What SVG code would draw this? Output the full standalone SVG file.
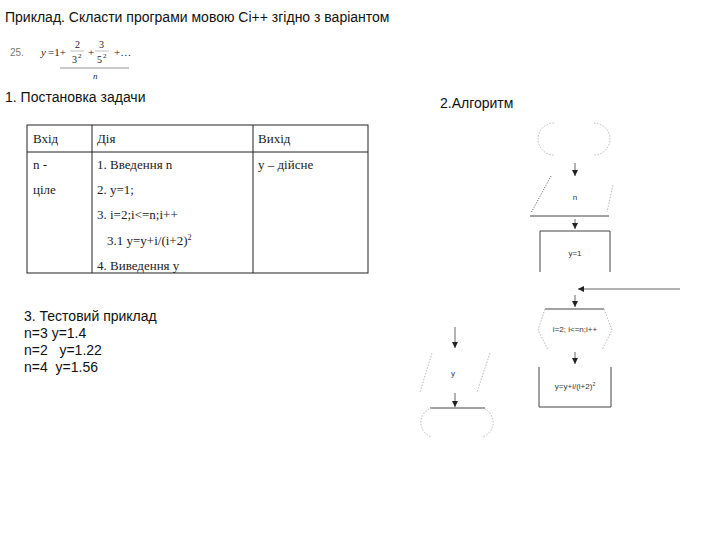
<svg xmlns="http://www.w3.org/2000/svg" width="720" height="540" viewBox="0 0 720 540">
<defs>
<style>
.sans{font-family:"Liberation Sans",Arial,sans-serif;fill:#111}
.serif{font-family:"Liberation Serif","Times New Roman",serif;fill:#222}
.h{font-size:14px}
.t{font-size:13px}
.small{font-size:8px;font-family:"Liberation Sans",Arial,sans-serif;fill:#333}
.faint{fill:none;stroke:#b8b8b8;stroke-width:1;stroke-dasharray:1.5 1.5}
.solid{fill:none;stroke:#444;stroke-width:1}
.grid{fill:none;stroke:#222;stroke-width:1}
.conn{fill:none;stroke:#666;stroke-width:1}
</style>
<marker id="ah" viewBox="0 0 10 10" refX="10" refY="5" markerWidth="6" markerHeight="6" orient="auto">
<path d="M0,0 L10,5 L0,10 z" fill="#222"/>
</marker>
</defs>
<rect width="720" height="540" fill="#fff"/>

<text class="sans h" x="5" y="22">Приклад. Скласти програми мовою Сі++ згідно з варіантом</text>

<g id="formula">
<text x="10" y="56" font-family="Liberation Sans,Arial,sans-serif" font-size="10" fill="#777">25.</text>
<text x="41" y="56" class="serif" font-size="11" font-style="italic" fill="#444">y</text>
<text x="48" y="56" class="serif" font-size="11" fill="#444">=1+</text>
<text x="75" y="48" class="serif" font-size="10" fill="#444">2</text>
<line x1="70" y1="51" x2="84" y2="51" stroke="#999" stroke-width="0.6"/>
<text x="72" y="63" class="serif" font-size="10" fill="#444">3</text>
<text x="78" y="58" class="serif" font-size="7" fill="#444">2</text>
<text x="88" y="56" class="serif" font-size="11" fill="#444">+</text>
<text x="99" y="48" class="serif" font-size="10" fill="#444">3</text>
<line x1="95" y1="51" x2="109" y2="51" stroke="#999" stroke-width="0.6"/>
<text x="97" y="63" class="serif" font-size="10" fill="#444">5</text>
<text x="103" y="58" class="serif" font-size="7" fill="#444">2</text>
<text x="114" y="56" class="serif" font-size="11" fill="#444">+…</text>
<line x1="60" y1="68" x2="129" y2="68" stroke="#777" stroke-width="0.8"/>
<text x="93" y="79" class="serif" font-size="9" font-style="italic" fill="#444">n</text>
</g>

<text class="sans h" x="5" y="102">1. Постановка задачи</text>
<text class="sans h" x="440" y="108">2.Алгоритм</text>

<g id="table">
<rect class="grid" x="27" y="125" width="341" height="148"/>
<line class="grid" x1="27" y1="152" x2="368" y2="152"/>
<line class="grid" x1="92" y1="125" x2="92" y2="273"/>
<line class="grid" x1="253" y1="125" x2="253" y2="273"/>
<text class="serif t" x="33" y="143">Вхід</text>
<text class="serif t" x="97" y="143">Дія</text>
<text class="serif t" x="258" y="143">Вихід</text>
<text class="serif t" x="33" y="169">n -</text>
<text class="serif t" x="33" y="194">ціле</text>
<text class="serif t" x="97" y="169">1. Введення n</text>
<text class="serif t" x="97" y="194">2. y=1;</text>
<text class="serif t" x="97" y="219">3. i=2;i&lt;=n;i++</text>
<text class="serif t" x="107" y="245">3.1 y=y+i/(i+2)<tspan font-size="8" dy="-5">2</tspan></text>
<text class="serif t" x="97" y="270">4. Виведення y</text>
<text class="serif t" x="258" y="169">y – дійсне</text>
</g>

<g id="test">
<text class="sans h" x="24" y="321">3. Тестовий приклад</text>
<text class="sans h" x="24" y="338">n=3 y=1.4</text>
<text class="sans h" x="24" y="355" xml:space="preserve">n=2   y=1.22</text>
<text class="sans h" x="24" y="372" xml:space="preserve">n=4  y=1.56</text>
</g>

<g id="start">
<path class="faint" d="M554,123 A16,16 0 0 0 554,155"/>
<path class="faint" d="M594,123 A16,16 0 0 1 594,155"/>
</g>

<g id="input-n">
<line x1="551" y1="176" x2="531" y2="213" stroke="#555" stroke-width="1" stroke-dasharray="1 1.5"/>
<line class="faint" x1="613" y1="185" x2="607" y2="212"/>
<line class="solid" x1="530" y1="216" x2="609" y2="216"/>
<text class="small" x="575" y="200" text-anchor="middle">n</text>
</g>

<g id="assign-y">
<path class="solid" d="M540,272 V231 H610 V272"/>
<text class="small" x="575" y="256" text-anchor="middle">y=1</text>
</g>

<g id="loop">
<line class="solid" x1="545" y1="309" x2="604" y2="309"/>
<path class="faint" d="M545,309 L538,330 L548,350"/>
<path class="faint" d="M604,309 L612,330 L602,350"/>
<text class="small" x="575" y="332" text-anchor="middle">i=2; i&lt;=n;i++</text>
</g>

<g id="body">
<path class="solid" d="M539,367 V407 H611 V367"/>
<text class="small" x="575" y="389" text-anchor="middle">y=y+i/(i+2)<tspan font-size="5" dy="-3">2</tspan></text>
</g>

<g id="output-y">
<line class="faint" x1="432" y1="353" x2="420" y2="392"/>
<line class="faint" x1="490" y1="353" x2="477" y2="392"/>
<text class="small" x="453" y="376" text-anchor="middle">y</text>
</g>

<g id="end">
<line class="solid" x1="430" y1="408" x2="485" y2="408" stroke="#111"/>
<path class="faint" d="M432,408 A15,15 0 0 0 432,437"/>
<path class="faint" d="M482,408 A15,15 0 0 1 482,437"/>
</g>

<g id="connectors">
<line class="conn" x1="575" y1="163" x2="575" y2="176" marker-end="url(#ah)"/>
<line class="conn" x1="575" y1="219" x2="575" y2="229" marker-end="url(#ah)"/>
<line class="conn" x1="680" y1="289" x2="578" y2="289" marker-end="url(#ah)"/>
<line class="conn" x1="575" y1="295" x2="575" y2="307" marker-end="url(#ah)"/>
<line class="conn" x1="575" y1="352" x2="575" y2="364" marker-end="url(#ah)"/>
<line class="conn" x1="455" y1="327" x2="455" y2="348" marker-end="url(#ah)"/>
<line class="conn" x1="455" y1="393" x2="455" y2="407" marker-end="url(#ah)"/>
</g>
</svg>
